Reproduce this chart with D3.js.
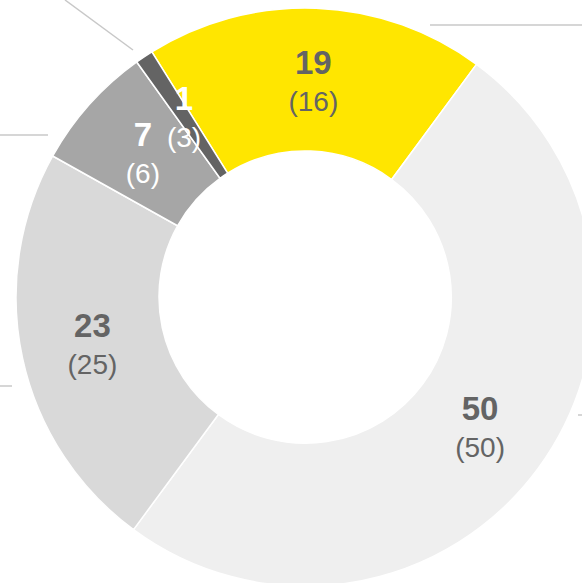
<!DOCTYPE html>
<html>
<head>
<meta charset="utf-8">
<script src="https://cdn.jsdelivr.net/npm/d3@7"></script>
<style>
    html, body { margin: 0; padding: 0; background: #fff; }
    svg { display: block; }
</style>
</head>
<body>
<svg id="chart" width="582" height="583"></svg>
<script>
// Chart data
const categories = ['A', 'B', 'C', 'D', 'E'];
const values = [19, 50, 23, 7, 1];
const previous = [16, 50, 25, 6, 3];
const colors = ['#ffe600', '#efefef', '#d9d9d9', '#a6a6a6', '#646464'];
const textColors = ['#646464', '#646464', '#646464', '#ffffff', '#ffffff'];

const width = 582;
const height = 583;
const center = { x: 305, y: 297 };
const outerRadius = 289;
const innerRadius = 146;
const startAngle = -32 * Math.PI / 180;

const svgEl = d3.select('#chart');
svgEl.selectAll('*').remove();

// Leader line remnants from the surrounding layout
const leaders = [
    [[65, 0], [133, 50]],
    [[0, 135], [48, 135]],
    [[430, 25], [582, 25]],
    [[0, 386], [12, 386]],
    [[578, 415], [582, 415]],
];
svgEl.append('g')
    .selectAll('line')
    .data(leaders)
    .join('line')
    .attr('x1', (d) => d[0][0])
    .attr('y1', (d) => d[0][1])
    .attr('x2', (d) => d[1][0])
    .attr('y2', (d) => d[1][1])
    .attr('stroke', '#c8c8c8')
    .attr('stroke-width', 1.5);

const svg = svgEl.append('g')
    .attr('transform', `translate(${center.x},${center.y})`);

const pie = d3.pie()
    .sort(null)
    .value((d) => d.value)
    .startAngle(startAngle)
    .endAngle(startAngle + 2 * Math.PI);

const data = categories.map((c, i) => ({
    name: c, value: values[i], prev: previous[i], color: colors[i], text: textColors[i],
}));
const arcs = pie(data);

const arc = d3.arc()
    .innerRadius(innerRadius)
    .outerRadius(outerRadius);

svg.selectAll('path.slice')
    .data(arcs)
    .join('path')
    .attr('class', 'slice')
    .attr('d', arc)
    .attr('fill', (d) => d.data.color)
    .attr('stroke', '#ffffff')
    .attr('stroke-width', 1.5)
    .attr('stroke-linejoin', 'round');

// Labels: current value in bold, previous value in brackets below
const labels = svg.selectAll('g.label')
    .data(arcs)
    .join('g')
    .attr('class', 'label')
    .attr('transform', (d) => `translate(${arc.centroid(d)})`)
    .attr('font-family', 'Liberation Sans, Arial, sans-serif')
    .attr('text-anchor', 'middle')
    .attr('fill', (d) => d.data.text);

labels.append('text')
    .attr('y', -6)
    .attr('font-size', 33)
    .attr('font-weight', 'bold')
    .text((d) => d.data.value);

labels.append('text')
    .attr('y', 31)
    .attr('font-size', 28)
    .text((d) => `(${d.data.prev})`);
</script>
</body>
</html>
